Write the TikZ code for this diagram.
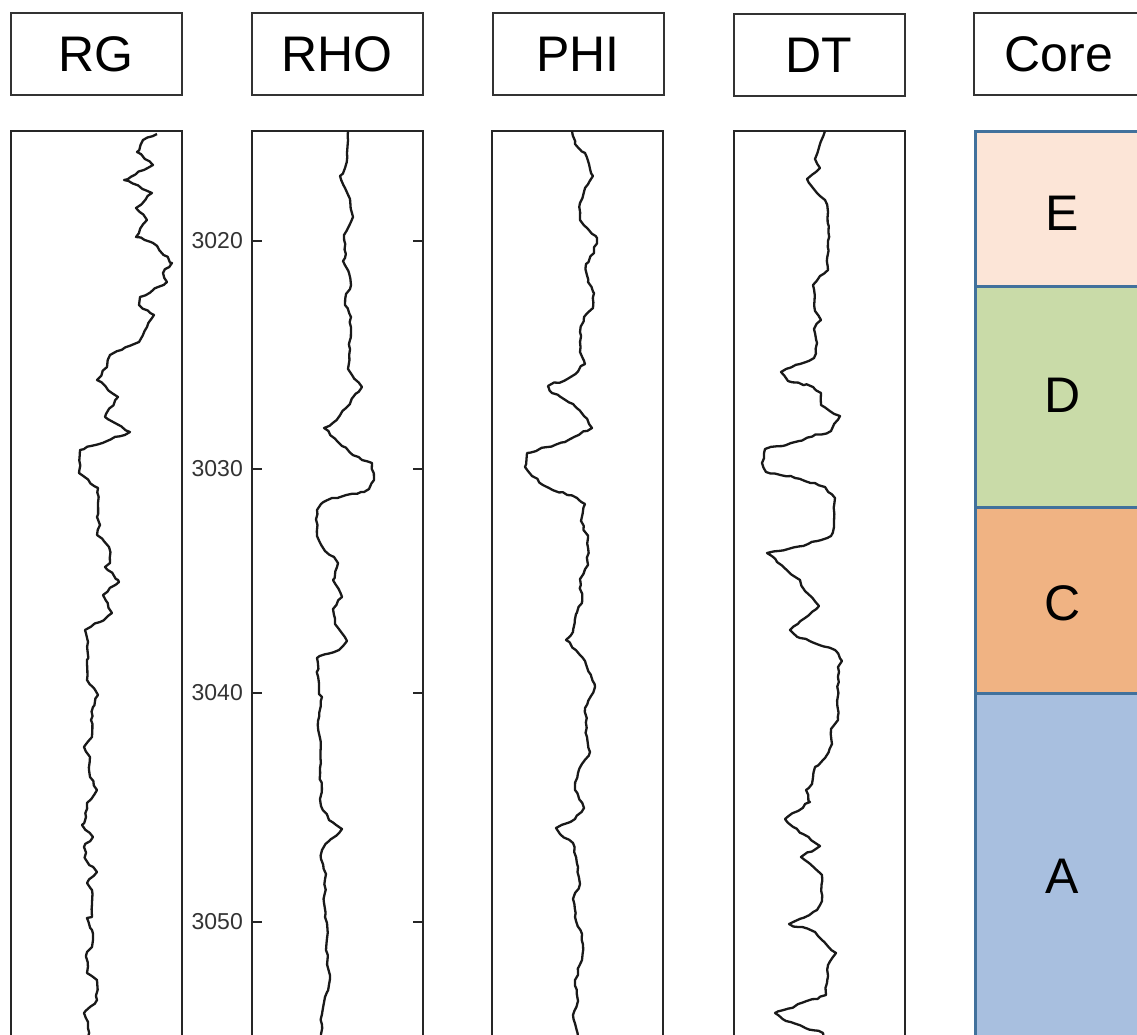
\documentclass[tikz,border=0pt]{standalone}
\usepackage{fontspec}
\setmainfont{Liberation Sans}
\usepackage{tikz}
\usetikzlibrary{decorations.pathmorphing}
\usepackage{xcolor}

\definecolor{coreE}{HTML}{FCE5D7}
\definecolor{coreD}{HTML}{C9DBA8}
\definecolor{coreC}{HTML}{F0B383}
\definecolor{coreA}{HTML}{A8BFDF}
\definecolor{coreline}{HTML}{41719C}

\begin{document}
\begin{tikzpicture}[x=1pt,y=-1pt,
    hdr/.style={draw=black!80,line width=2pt,minimum width=171pt,minimum height=82pt,inner sep=0pt,font=\fontsize{50}{56}\selectfont},
    frame/.style={line width=2.6pt,black!85},
    logline/.style={line width=2.3pt,line join=round,black!90,
      decorate,decoration={random steps,segment length=5pt,amplitude=1.2pt}},
    depth/.style={anchor=east,inner sep=0pt,font=\fontsize{23}{26}\selectfont,text=black!80},
    layer/.style={draw=coreline,line width=3pt},
    letter/.style={font=\fontsize{50}{56}\selectfont}]
  \useasboundingbox (0,0) rectangle (1137,1034);
  \clip (0,0) rectangle (1137,1034);
  \pgfmathsetseed{7}
  % headers
  \node[hdr] (hRG) at (96,54) {RG};
  \node[hdr] (hRHO) at (337,54) {RHO};
  \node[hdr] (hPHI) at (578,54) {PHI};
  \node[hdr] (hDT) at (819,55) {DT};
  \node[hdr] (hCore) at (1059,54) {Core};
  % track frames
  \draw[frame](11,1045)--(11,131)--(182,131)--(182,1045);
  \draw[frame](252,1045)--(252,131)--(423,131)--(423,1045);
  \draw[frame](492,1045)--(492,131)--(663,131)--(663,1045);
  \draw[frame](734,1045)--(734,131)--(905,131)--(905,1045);
  % depth ticks
  \foreach \d/\y in {3020/241,3030/469,3040/693,3050/922}{
    \draw[frame](252,\y)--(262,\y);
    \draw[frame](423,\y)--(413,\y);
    \node[depth] (d\d) at (243,\y) {\d};
  }
  % RG
  \draw[logline] plot coordinates {(157,134) (143,140) (137,152) (153,165) (124,180)
    (152,193) (136,208) (147,220) (136,237) (153,243) (172,263) (163,273) (167,282)
    (140,297) (139,305) (154,315) (147,327) (139,342) (110,355) (107,367) (97,380)
    (118,397) (105,417) (130,432) (80,450) (79,473) (98,488) (97,517) (100,525)
    (97,535) (109,547) (110,563) (105,567) (118,580) (119,582) (103,595) (112,613)
    (100,622) (85,630) (88,642) (87,660) (87,680) (98,695) (93,707) (91,720) (92,737)
    (84,747) (90,757) (89,770) (90,777) (97,790) (87,803) (86,817) (82,825) (93,837)
    (84,847) (86,860) (97,872) (87,883) (92,890) (92,917) (87,918) (92,930) (92,947)
    (87,952) (87,973) (97,980) (97,1000) (84,1013) (88,1022) (89,1040)};
  % RHO
  \draw[logline] plot coordinates {(348,131) (347,153) (345,168) (340,176) (345,188)
    (350,199) (353,217) (349,226) (344,235) (345,258) (343,261) (349,273) (351,285)
    (346,294) (345,305) (351,317) (350,340) (348,369) (352,375) (362,387) (346,408)
    (334,422) (324,428) (342,446) (362,460) (372,463) (374,480) (369,489) (361,492)
    (332,498) (321,504) (317,510) (317,536) (325,551) (334,557) (338,563) (333,580)
    (342,597) (333,609) (335,624) (347,641) (339,650) (317,658) (319,694) (322,697)
    (318,721) (320,738) (321,806) (329,820) (342,829) (329,841) (322,850) (321,859)
    (326,874) (324,903) (327,923) (326,950) (330,979) (325,997) (322,1014) (321,1040)};
  % PHI
  \draw[logline] plot coordinates {(572,131) (575,144) (585,153) (589,164) (593,176)
    (585,188) (580,203) (580,220) (588,229) (597,238) (594,253) (586,264) (588,282)
    (594,293) (593,308) (584,317) (580,332) (580,352) (585,364) (569,378) (548,386)
    (552,393) (573,404) (584,416) (592,428) (565,442) (527,453) (525,467) (532,476)
    (549,488) (577,498) (585,504) (581,521) (588,538) (588,565) (580,579) (582,603)
    (576,614) (573,632) (566,640) (585,661) (595,687) (585,708) (587,737) (590,752)
    (578,773) (575,790) (584,808) (575,819) (556,828) (560,834) (573,843) (578,867)
    (580,884) (573,899) (575,917) (582,934) (582,960) (575,980) (578,1001) (573,1015)
    (578,1040)};
  % DT
  \draw[logline] plot coordinates {(825,131) (820,144) (815,159) (820,168) (807,179)
    (813,188) (825,200) (828,212) (828,241) (828,270) (820,276) (813,285) (815,311)
    (821,320) (814,329) (817,343) (814,358) (800,364) (781,372) (788,381) (813,387)
    (821,393) (821,405) (840,416) (831,431) (791,443) (765,449) (762,463) (766,472)
    (795,478) (825,487) (835,498) (834,527) (831,536) (808,544) (767,553) (777,562)
    (800,580) (805,591) (819,606) (805,618) (790,630) (800,638) (835,650) (842,661)
    (838,667) (838,720) (831,729) (832,744) (825,758) (815,767) (812,784) (806,790)
    (810,802) (785,819) (803,834) (820,846) (801,857) (822,875) (822,901) (817,910)
    (789,924) (815,932) (836,953) (828,965) (827,983) (826,995) (775,1013) (786,1021)
    (823,1033) (826,1040)};
  % core
  \draw[layer,fill=coreE](975,131) rectangle (1150,286);
  \draw[layer,fill=coreD](975,286) rectangle (1150,507);
  \draw[layer,fill=coreC](975,507) rectangle (1150,693);
  \draw[layer,fill=coreA](975,693) rectangle (1150,1060);
  \node[letter] (cE) at (1062,213) {E};
  \node[letter] (cD) at (1063,395) {D};
  \node[letter] (cC) at (1063,603) {C};
  \node[letter] (cA) at (1062,876) {A};
\end{tikzpicture}
\end{document}
